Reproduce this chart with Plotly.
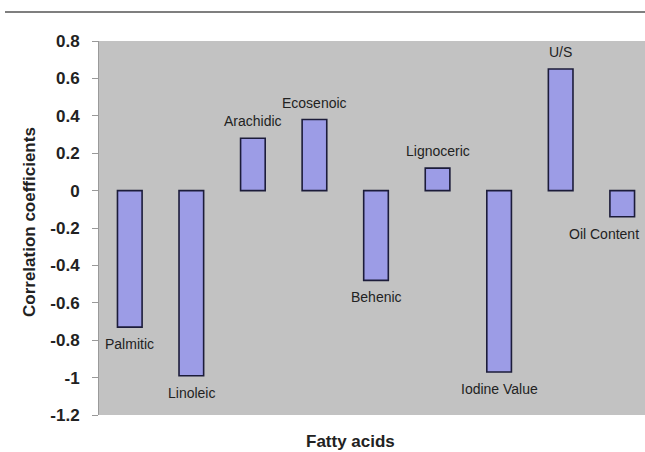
import plotly.graph_objects as go

categories = ["Palmitic", "Linoleic", "Arachidic", "Ecosenoic", "Behenic",
              "Lignoceric", "Iodine Value", "U/S", "Oil Content"]
values = [-0.73, -0.99, 0.28, 0.38, -0.48, 0.12, -0.97, 0.65, -0.14]
y_ticks = [0.8, 0.6, 0.4, 0.2, 0, -0.2, -0.4, -0.6, -0.8, -1, -1.2]
y_tick_labels = ["0.8", "0.6", "0.4", "0.2", "0", "-0.2", "-0.4", "-0.6", "-0.8", "-1", "-1.2"]
label_xshift = [0, 0, 0, 0, 0, 0, 0, 0, -18]

FONT = "Arial, Liberation Sans, sans-serif"

W, H = 645, 452
ML, MT, MB = 99, 41, 37
PW, PH = W - ML, H - MT - MB  # 546 x 374
PB = H - MB  # plot bottom in page pixels


def px(x):
    return (x - ML) / PW


def py(y):
    return (PB - y) / PH


fig = go.Figure()
fig.add_trace(go.Bar(
    x=categories, y=values,
    marker=dict(color="#9c9ce6", line=dict(color="#1c1c3a", width=1.6)),
    width=0.4,
    hoverinfo="x+y",
))

annotations = []
for c, v, xs in zip(categories, values, label_xshift):
    annotations.append(dict(
        x=c, y=v, xref="x", yref="y", text=c, showarrow=False,
        yanchor="bottom" if v >= 0 else "top",
        yshift=7 if v >= 0 else -7, xshift=xs,
        font=dict(family=FONT, size=14, color="#222"),
    ))

annotations.append(dict(
    text="<b>Correlation coefficients</b>", xref="paper", yref="paper",
    x=px(29), y=py(222), textangle=-90, showarrow=False,
    xanchor="center", yanchor="middle",
    font=dict(family=FONT, size=17, color="#222"),
))
annotations.append(dict(
    text="<b>Fatty acids</b>", xref="paper", yref="paper",
    x=px(350), y=py(441), showarrow=False,
    xanchor="center", yanchor="middle",
    font=dict(family=FONT, size=17, color="#222"),
))

fig.update_layout(
    width=W, height=H,
    margin=dict(l=ML, r=0, t=MT, b=MB, pad=0),
    paper_bgcolor="white",
    plot_bgcolor="#c2c2c2",
    showlegend=False,
    annotations=annotations,
    shapes=[dict(type="line", xref="paper", yref="paper",
                 x0=px(5), x1=px(645),
                 y0=py(12), y1=py(12),
                 line=dict(color="#555", width=1.5))],
    xaxis=dict(
        range=[-0.5, 8.37], showticklabels=False, ticks="",
        showgrid=False, zeroline=False, showline=False,
    ),
    yaxis=dict(
        range=[-1.2, 0.8], tickvals=y_ticks,
        ticktext=["<b>%s</b>" % t for t in y_tick_labels],
        ticks="outside", ticklen=6, tickcolor="#999", tickwidth=1,
        showgrid=False, zeroline=False,
        showline=True, linecolor="#9a9a9a", linewidth=1,
        tickfont=dict(family=FONT, size=17, color="#222"),
        ticklabelstandoff=9,
    ),
    font=dict(family=FONT),
)

fig.write_html(
    "out.html",
    config={"displayModeBar": False},
    post_script="document.body.style.margin='0';document.body.style.overflow='hidden';",
)
